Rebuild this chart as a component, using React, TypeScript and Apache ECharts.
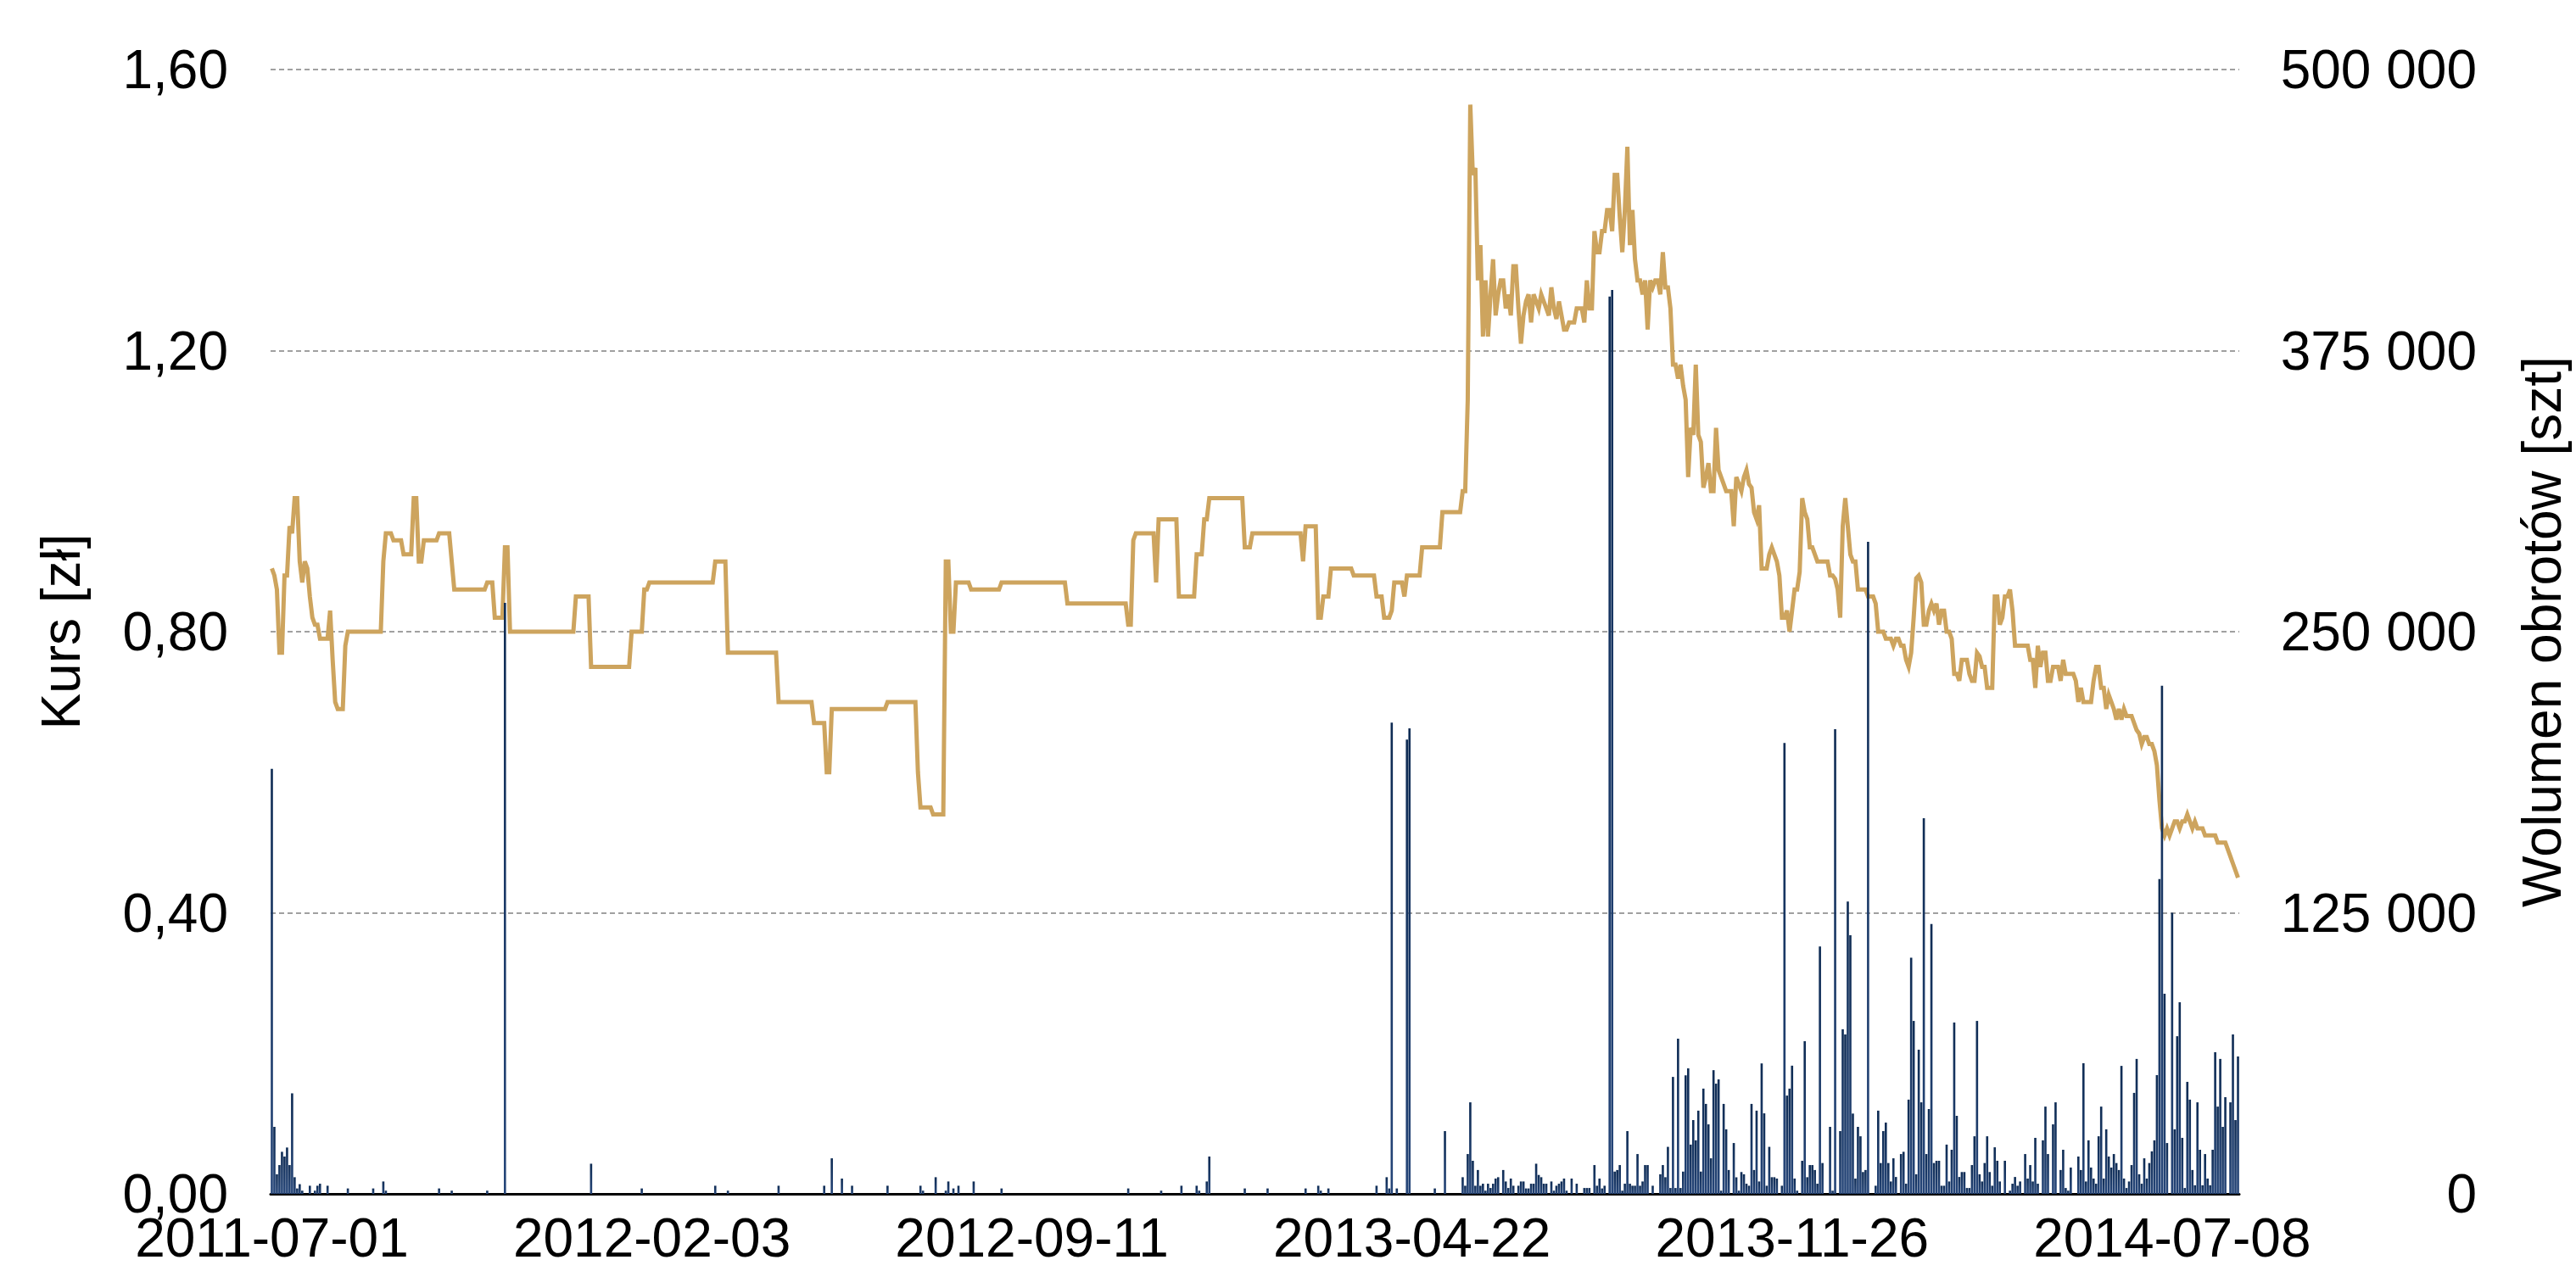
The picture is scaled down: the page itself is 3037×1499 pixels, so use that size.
import React, { useEffect, useRef } from "react";
import * as echarts from "echarts";

// ---- categories: 777 trading days, labels every 150 sessions ----
const N_DAYS = 777;
const TICK_STEP = 150;
const TICK_LABELS = ["2011-07-01", "2012-02-03", "2012-09-11", "2013-04-22", "2013-11-26", "2014-07-08"];
const CATEGORIES = Array.from({ length: N_DAYS }, (_, i) => "d" + i);

// ---- price (zł): runs of unchanged closing price [value, sessions] for days 0..471 ----
const PRICE_RUNS: [number, number][] = [
  [0.89, 1], [0.88, 1], [0.86, 1], [0.77, 2], [0.88, 2], [0.95, 1], [0.94, 1], [0.99, 2],
  [0.9, 1], [0.87, 1], [0.9, 1], [0.89, 1], [0.85, 1], [0.82, 1], [0.81, 2], [0.79, 4],
  [0.83, 1], [0.76, 1], [0.7, 1], [0.69, 3], [0.78, 1], [0.8, 14], [0.9, 1], [0.94, 3],
  [0.93, 4], [0.91, 4], [0.99, 2], [0.9, 2], [0.93, 6], [0.94, 5], [0.9, 1], [0.86, 13],
  [0.87, 3], [0.82, 4], [0.92, 2], [0.8, 26], [0.85, 6], [0.75, 16], [0.8, 5], [0.86, 2],
  [0.87, 26], [0.9, 5], [0.77, 20], [0.7, 14], [0.67, 5], [0.6, 2], [0.69, 22], [0.7, 12],
  [0.6, 1], [0.55, 5], [0.54, 5], [0.9, 2], [0.8, 2], [0.87, 6], [0.86, 12], [0.87, 26],
  [0.84, 24], [0.81, 2], [0.93, 1], [0.94, 8], [0.87, 1], [0.96, 8], [0.85, 7], [0.91, 3],
  [0.96, 2], [0.99, 14], [0.92, 3], [0.94, 20], [0.9, 1], [0.95, 5], [0.82, 2], [0.85, 3],
  [0.89, 9], [0.88, 9], [0.85, 3], [0.82, 3], [0.83, 1], [0.87, 4], [0.85, 1], [0.88, 6],
  [0.92, 8], [0.97, 8], [1.0, 2],
];

// ---- price (zł): daily values for days 472..776 ----
const PRICE_TAIL: number[] = [
  1.13, 1.55, 1.45, 1.46, 1.3, 1.35, 1.22, 1.3, 1.22, 1.28,
  1.33, 1.25, 1.28, 1.3, 1.3, 1.26, 1.28, 1.25, 1.32, 1.32,
  1.26, 1.21, 1.25, 1.27, 1.28, 1.24, 1.28, 1.27, 1.26, 1.28,
  1.27, 1.26, 1.25, 1.29, 1.26, 1.245, 1.27, 1.25, 1.23, 1.23,
  1.24, 1.24, 1.24, 1.26, 1.26, 1.26, 1.24, 1.3, 1.26, 1.26,
  1.37, 1.34, 1.34, 1.37, 1.37, 1.4, 1.4, 1.37, 1.45, 1.45,
  1.39, 1.34, 1.4, 1.49, 1.35, 1.4, 1.33, 1.3, 1.3, 1.28,
  1.3, 1.23, 1.3, 1.29, 1.3, 1.3, 1.28, 1.34, 1.29, 1.29,
  1.26, 1.18, 1.18, 1.16, 1.18, 1.15, 1.13, 1.02, 1.09, 1.08,
  1.18, 1.08, 1.07, 1.005, 1.02, 1.04, 1.0, 1.0, 1.09, 1.03,
  1.02, 1.01, 1.0, 1.0, 1.0, 0.95, 1.02, 1.01, 1.0, 1.02,
  1.03, 1.01, 1.005, 0.97, 0.96, 0.98, 0.89, 0.89, 0.89, 0.91,
  0.92, 0.91, 0.9, 0.88, 0.82, 0.82, 0.83, 0.8, 0.83, 0.86,
  0.86, 0.885, 0.99, 0.97, 0.96, 0.92, 0.92, 0.91, 0.9, 0.9,
  0.9, 0.9, 0.9, 0.88, 0.88, 0.875, 0.86, 0.82, 0.95, 0.99,
  0.95, 0.91, 0.9, 0.9, 0.86, 0.86, 0.86, 0.86, 0.85, 0.85,
  0.85, 0.84, 0.8, 0.8, 0.8, 0.79, 0.79, 0.79, 0.78, 0.79,
  0.79, 0.78, 0.78, 0.76, 0.75, 0.77, 0.82, 0.876, 0.88, 0.87,
  0.81, 0.81, 0.83, 0.84, 0.83, 0.84, 0.81, 0.83, 0.83, 0.8,
  0.8, 0.79, 0.74, 0.74, 0.73, 0.76, 0.76, 0.76, 0.74, 0.73,
  0.73, 0.77, 0.765, 0.75, 0.75, 0.72, 0.72, 0.72, 0.85, 0.85,
  0.81, 0.82, 0.85, 0.85, 0.86, 0.83, 0.78, 0.78, 0.78, 0.78,
  0.78, 0.78, 0.76, 0.76, 0.72, 0.78, 0.75, 0.77, 0.77, 0.73,
  0.73, 0.75, 0.75, 0.75, 0.73, 0.76, 0.74, 0.74, 0.74, 0.74,
  0.73, 0.7, 0.72, 0.7, 0.7, 0.7, 0.7, 0.73, 0.75, 0.75,
  0.72, 0.72, 0.69, 0.71, 0.7, 0.69, 0.675, 0.69, 0.675, 0.69,
  0.68, 0.68, 0.68, 0.67, 0.66, 0.655, 0.64, 0.65, 0.65, 0.64,
  0.64, 0.63, 0.61, 0.56, 0.52, 0.51, 0.52, 0.51, 0.52, 0.53,
  0.53, 0.52, 0.53, 0.53, 0.54, 0.53, 0.52, 0.53, 0.52, 0.52,
  0.52, 0.51, 0.51, 0.51, 0.51, 0.51, 0.5, 0.5, 0.5, 0.5,
  0.49, 0.48, 0.47, 0.46, 0.45,
];

// ---- volume (szt): sparse sessions with trades for days 0..469 [day, volume] ----
const VOL_SPARSE: [number, number][] = [
  [0, 189000], [1, 29800], [2, 8700], [3, 12800], [4, 18700], [5, 16600], [6, 20600],
  [7, 12800], [8, 44700], [9, 7400], [10, 2400], [11, 4300], [12, 1400], [15, 3600],
  [17, 1400], [18, 3600], [19, 4500], [22, 3600], [30, 2400], [40, 2400], [44, 5500],
  [45, 1400], [66, 2400], [71, 1400], [85, 1400], [92, 262800], [126, 13400], [146, 2400],
  [175, 3600], [180, 1400], [200, 3600], [218, 3600], [221, 15800], [225, 6800],
  [229, 3600], [243, 3600], [256, 3600], [257, 1400], [262, 7400], [266, 1400],
  [267, 5500], [269, 2400], [271, 3600], [277, 5500], [288, 2400], [338, 2400],
  [351, 1400], [359, 3600], [365, 3600], [366, 1400], [369, 5500], [370, 16600],
  [384, 2400], [393, 2400], [408, 2400], [413, 3600], [414, 1400], [417, 2400],
  [436, 3600], [440, 7400], [441, 2400], [442, 209600], [444, 2400], [448, 202000],
  [449, 207000], [459, 2400], [463, 27900],
];

// ---- volume (szt): daily values for days 470..776 ----
const VOL_TAIL: number[] = [
  7400, 3600, 17700, 40700, 14700, 3600, 10600, 3600, 4500, 1400,
  4500, 2600, 4500, 6800, 7400, 0, 10600, 5500, 2600, 6800,
  3600, 0, 3600, 5500, 5500, 2400, 2400, 4500, 4500, 13400,
  8400, 7400, 4500, 4500, 0, 5500, 1400, 3600, 4500, 5500,
  6800, 1400, 0, 6800, 0, 4500, 0, 0, 2600, 2600,
  2600, 0, 12800, 3600, 6800, 2400, 3600, 0, 399000, 402000,
  9900, 10600, 12800, 1400, 4500, 27900, 4500, 3600, 3600, 17700,
  3600, 5500, 12800, 12800, 0, 3600, 0, 0, 8700, 12800,
  7400, 20900, 2600, 52000, 2600, 69000, 2600, 9900, 52700, 55800,
  21900, 32800, 23800, 37000, 9900, 46800, 40000, 30900, 15800, 55000,
  49000, 50900, 1400, 40000, 28700, 10600, 0, 22600, 7400, 1400,
  9700, 8700, 4500, 3600, 40000, 10600, 37000, 5500, 58000, 35800,
  3600, 20900, 7400, 7400, 6800, 0, 3600, 200500, 43700, 46800,
  57000, 6800, 1400, 0, 14700, 67900, 7400, 12800, 12800, 10600,
  4500, 110000, 13700, 0, 0, 29800, 1400, 206600, 0, 27900,
  73200, 70900, 130000, 115000, 35700, 6800, 29800, 25600, 9700, 10600,
  290000, 0, 0, 3600, 37000, 13700, 27900, 31700, 13700, 5500,
  15800, 7500, 0, 17700, 18700, 4500, 41900, 105000, 76900, 8700,
  64100, 40700, 167000, 17700, 37700, 120000, 13700, 14700, 14700, 3600,
  3600, 21900, 5500, 19600, 76200, 34700, 7500, 9700, 9700, 2600,
  2600, 12800, 25600, 76900, 8700, 5500, 13700, 25600, 9700, 3600,
  20700, 14700, 5500, 0, 14700, 0, 1400, 4500, 7500, 3600,
  5500, 0, 17700, 6800, 12800, 5500, 24900, 4500, 0, 23800,
  38800, 17700, 0, 30900, 40700, 0, 10600, 19600, 2600, 1400,
  11700, 0, 0, 16600, 10600, 58100, 5500, 23800, 11700, 6800,
  4500, 25600, 38800, 6800, 28700, 16600, 11700, 17700, 13700, 10600,
  56900, 6800, 2600, 5500, 12800, 44900, 60000, 8700, 4500, 15800,
  6800, 13700, 18900, 23800, 52800, 140000, 226000, 89000, 22600, 0,
  125000, 28700, 70100, 85200, 24900, 2600, 49800, 41900, 10600, 3800,
  40700, 19600, 3800, 17700, 6800, 3800, 19600, 63000, 38800, 60000,
  29800, 43000, 0, 40700, 70900, 32800, 61100,
];
const VOL_TAIL_START = 470;

// ---- axis ranges ----
const PRICE_MAX = 1.6;
const PRICE_STEP = 0.4;
const VOL_MAX = 500000;
const VOL_STEP = 125000;

const PRICE: number[] = [
  ...PRICE_RUNS.flatMap(([v, n]) => Array(n).fill(v)),
  ...PRICE_TAIL,
];
const VOLUME: number[] = new Array(N_DAYS).fill(0);
VOL_SPARSE.forEach(([d, v]) => { VOLUME[d] = v; });
VOL_TAIL.forEach((v, k) => { VOLUME[VOL_TAIL_START + k] = v; });

const FONT = "'Liberation Sans', Arial, Helvetica, sans-serif";

export default function App() {
  const ref = useRef<HTMLDivElement>(null);

  useEffect(() => {
    if (!ref.current) return;
    const chart = echarts.init(ref.current, null, { renderer: "svg" });
    const textStyle = { color: "#000", fontSize: 64, fontFamily: FONT };
    chart.setOption({
      animation: false,
      backgroundColor: "#fff",
      textStyle: { fontFamily: FONT },
      grid: { left: 319, right: 396, top: 82, bottom: 91, containLabel: false },
      xAxis: {
        type: "category",
        data: CATEGORIES,
        boundaryGap: true,
        axisLine: { show: true, lineStyle: { color: "#000", width: 3 } },
        axisTick: { show: false },
        splitLine: { show: false },
        axisLabel: {
          ...textStyle,
          lineHeight: 50,
          margin: 27,
          interval: (idx: number) => idx % TICK_STEP === 0,
          formatter: (_v: string, idx: number) => TICK_LABELS[Math.round(idx / TICK_STEP)] ?? "",
        },
      },
      yAxis: [
        {
          type: "value",
          min: 0,
          max: PRICE_MAX,
          interval: PRICE_STEP,
          position: "left",
          name: "Kurs [zł]",
          nameLocation: "middle",
          nameRotate: 90,
          nameGap: 215,
          nameTextStyle: { ...textStyle },
          axisLine: { show: false },
          axisTick: { show: false },
          axisLabel: {
            ...textStyle,
            lineHeight: 50,
            margin: 50,
            formatter: (v: number) => v.toFixed(2).replace(".", ","),
          },
          splitLine: {
            show: true,
            lineStyle: { color: "#a0a0a0", width: 2, type: [6, 4] },
          },
        },
        {
          type: "value",
          min: 0,
          max: VOL_MAX,
          interval: VOL_STEP,
          position: "right",
          name: "Wolumen obrotów [szt]",
          nameLocation: "middle",
          nameRotate: 90,
          nameGap: 325,
          nameTextStyle: { ...textStyle },
          axisLine: { show: false },
          axisTick: { show: false },
          splitLine: { show: false },
          axisLabel: {
            ...textStyle,
            lineHeight: 50,
            align: "right",
            margin: 280,
            formatter: (v: number) => String(Math.round(v)).replace(/\B(?=(\d{3})+(?!\d))/g, " "),
          },
        },
      ],
      series: [
        {
          name: "Kurs",
          type: "line",
          yAxisIndex: 0,
          data: PRICE,
          symbol: "none",
          z: 2,
          lineStyle: { color: "#cda45e", width: 5, join: "miter", miterLimit: 4 },
        },
        {
          name: "Wolumen",
          type: "bar",
          yAxisIndex: 1,
          data: VOLUME,
          barCategoryGap: "12%",
          z: 3,
          itemStyle: {
            color: new echarts.graphic.LinearGradient(0, 0, 0, 1, [
              { offset: 0, color: "#0f2c54" },
              { offset: 1, color: "#264679" },
            ]),
          },
        },
      ],
    });
    return () => chart.dispose();
  }, []);

  return (
    <div
      ref={ref}
      style={{ position: "fixed", left: 0, top: 0, width: 3037, height: 1499, background: "#fff" }}
    />
  );
}
